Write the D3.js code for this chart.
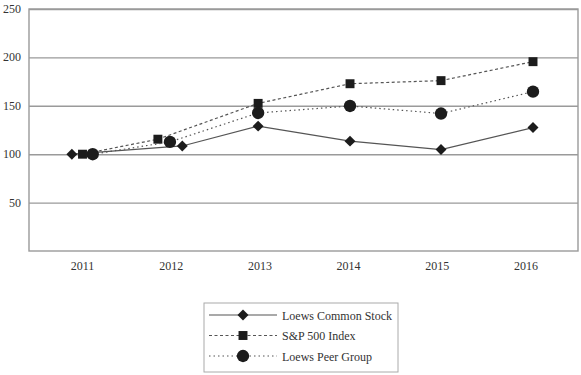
<!DOCTYPE html>
<html lang="en">
<head>
  <meta charset="UTF-8">
  <title>Loews Cumulative Return</title>
  <script src="https://d3js.org/d3.v7.min.js"></script>
  <style>
    body { margin: 0; padding: 0; background: #fff; }
    svg text { font-family: 'Liberation Serif', 'DejaVu Serif', serif; fill: #333; }
    .grid line { stroke: #9a9a9a; stroke-width: 1.4px; }
    .grid path { display: none; }
  </style>
</head>
<body>
  <div id="chart"></div>
  <script>
    // data
    const years = [2011, 2012, 2013, 2014, 2015, 2016];
    const yTicks = [50, 100, 150, 200, 250];

    const loewsX = [2010.88, 2012.125, 2012.98, 2014.016, 2015.042, 2016.079];
    const loewsY = [100, 108.5, 129, 113.5, 104.8, 127.5];

    const spX = [2011.0, 2011.85, 2012.98, 2014.016, 2015.042, 2016.079];
    const spY = [100, 115.5, 152.5, 172.8, 176, 195.6];

    const peerX = [2011.115, 2011.986, 2012.98, 2014.016, 2015.042, 2016.079];
    const peerY = [100, 112.7, 142.6, 149.8, 142, 164.6];

    // diamond = square turned 45 degrees
    const series = [
      { name: "Loews Common Stock", xs: loewsX, ys: loewsY, dash: null, shape: d3.symbolSquare, size: 60, rot: 45 },
      { name: "S&P 500 Index", xs: spX, ys: spY, dash: "3,2.5", shape: d3.symbolSquare, size: 80, rot: 0 },
      { name: "Loews Peer Group", xs: peerX, ys: peerY, dash: "1.5,3", shape: d3.symbolCircle, size: 120, rot: 0 }
    ];

    const W = 581, H = 375;
    const plot = { left: 29, right: 578, top: 9, bottom: 251 };

    const svg = d3.select("#chart").append("svg")
      .attr("width", W).attr("height", H);

    const x = d3.scaleLinear().domain([2011, 2016]).range([82.5, 526]);
    const y = d3.scaleLinear().domain([0, 250]).range([plot.bottom, plot.top]);

    // gridlines
    svg.append("g")
      .attr("class", "grid")
      .attr("transform", `translate(${plot.left},0)`)
      .call(d3.axisLeft(y).tickValues(yTicks).tickSize(-(plot.right - plot.left)).tickFormat(""));

    // frame
    svg.append("rect")
      .attr("x", plot.left).attr("y", plot.top)
      .attr("width", plot.right - plot.left).attr("height", plot.bottom - plot.top)
      .attr("fill", "none").attr("stroke", "#9a9a9a").attr("stroke-width", 1.4);

    // y labels
    svg.append("g").selectAll("text")
      .data(yTicks)
      .join("text")
      .attr("x", 21).attr("y", d => y(d) + 4)
      .attr("text-anchor", "end")
      .attr("font-size", 12)
      .text(d => d);

    // x labels
    svg.append("g").selectAll("text")
      .data(years)
      .join("text")
      .attr("x", d => x(d)).attr("y", 270)
      .attr("text-anchor", "middle")
      .attr("font-size", 12)
      .text(d => d);

    const line = d3.line().x(d => x(d[0])).y(d => y(d[1]));

    series.forEach(s => {
      const pts = s.xs.map((v, i) => [v, s.ys[i]]);
      svg.append("path")
        .datum(pts)
        .attr("d", line)
        .attr("fill", "none")
        .attr("stroke", "#555")
        .attr("stroke-width", 1.2)
        .attr("stroke-dasharray", s.dash);
      svg.append("g").selectAll("path")
        .data(pts)
        .join("path")
        .attr("transform", d => `translate(${x(d[0])},${y(d[1])}) rotate(${s.rot})`)
        .attr("d", d3.symbol().type(s.shape).size(s.size))
        .attr("fill", "#1c1c1c");
    });

    // legend
    const legend = svg.append("g").attr("transform", "translate(204,303)");
    legend.append("rect")
      .attr("width", 194).attr("height", 69)
      .attr("fill", "#fff").attr("stroke", "#aaa").attr("stroke-width", 1);

    series.forEach((s, i) => {
      const row = legend.append("g").attr("transform", `translate(0,${12 + i * 20.5})`);
      row.append("line")
        .attr("x1", 5).attr("x2", 73)
        .attr("stroke", "#555").attr("stroke-width", 1.2)
        .attr("stroke-dasharray", s.dash);
      row.append("path")
        .attr("transform", `translate(39,0) rotate(${s.rot})`)
        .attr("d", d3.symbol().type(s.shape).size(s.size))
        .attr("fill", "#1c1c1c");
      row.append("text")
        .attr("x", 78).attr("y", 4.5)
        .attr("font-size", 12)
        .text(s.name);
    });
  </script>
</body>
</html>
